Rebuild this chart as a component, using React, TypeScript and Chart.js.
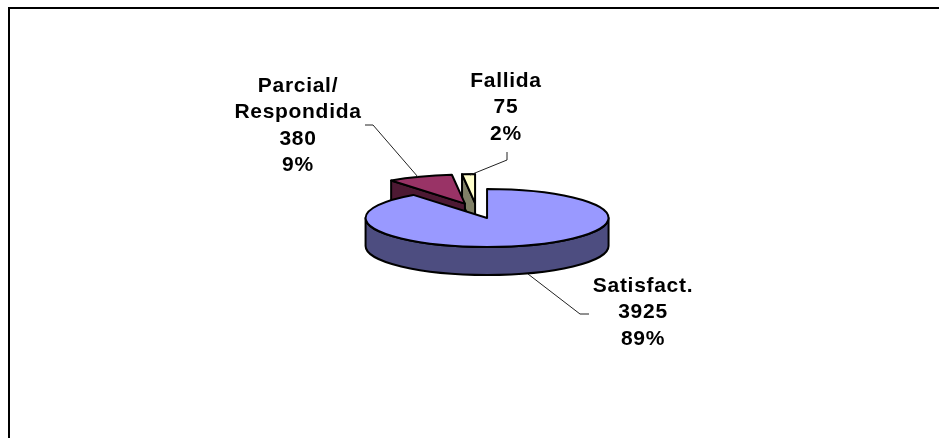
import React, { useEffect, useRef } from "react";
import { Chart, registerables } from "chart.js";

Chart.register(...registerables);

const categories = ["Satisfact.", "Parcial/\nRespondida", "Fallida"];
const values = [3925, 380, 75];
const percentLabels = ["89%", "9%", "2%"];
const topColors = ["#9999FF", "#993366", "#FFFFCC"];
const wallColors = ["#4D4D80", "#4D1933", "#808066"];
const explode = [32, 32, 32];

const SQUASH = 0.2387;
const DEPTH = 28;
const FONT = 'bold 21px "Liberation Sans", Arial, sans-serif';
const LINE_HEIGHT = 26.4;

const labelTops = [
  { x: 643, y: 286 },
  { x: 298, y: 86 },
  { x: 506, y: 81 },
];
const leaders = [
  [[528, 274], [580, 314], [589, 314]],
  [[365, 125], [373, 125], [418, 177]],
  [[507, 152], [507, 160], [470, 175]],
];

const pie3d = {
  id: "pie3d",
  beforeDatasetsDraw(chart: any) {
    const ctx = chart.ctx as CanvasRenderingContext2D;
    const arcs = chart.getDatasetMeta(0).data as any[];
    const order = arcs
      .map((a, i) => ({ a, i, mid: (a.startAngle + a.endAngle) / 2 }))
      .sort((p, q) => Math.sin(p.mid) - Math.sin(q.mid));

    ctx.save();
    ctx.lineJoin = "round";
    ctx.strokeStyle = "#000";
    ctx.lineWidth = 2;

    const fillStroke = (fill: string) => {
      ctx.fillStyle = fill;
      ctx.fill();
      ctx.stroke();
    };

    for (const { a, i, mid } of order) {
      const R = a.outerRadius;
      const off = a.options.offset || 0;
      const cx = a.x + Math.cos(mid) * off;
      const cy = a.y + Math.sin(mid) * off * SQUASH;
      const ry = R * SQUASH;
      const s = a.startAngle;
      const e = a.endAngle;
      const px = (t: number) => cx + R * Math.cos(t);
      const py = (t: number) => cy + ry * Math.sin(t);

      // radial faces turned towards the viewer
      const face = (t: number) => {
        ctx.beginPath();
        ctx.moveTo(cx, cy);
        ctx.lineTo(px(t), py(t));
        ctx.lineTo(px(t), py(t) + DEPTH);
        ctx.lineTo(cx, cy + DEPTH);
        ctx.closePath();
        fillStroke(wallColors[i]);
      };
      if (Math.cos(s) < 0) face(s);
      if (Math.cos(e) > 0) face(e);

      // outer wall: the part of the rim on the near side
      const from = Math.max(s, 0);
      const to = Math.min(e, Math.PI);
      if (to > from) {
        ctx.beginPath();
        ctx.ellipse(cx, cy, R, ry, 0, from, to);
        ctx.lineTo(px(to), py(to) + DEPTH);
        ctx.ellipse(cx, cy + DEPTH, R, ry, 0, to, from, true);
        ctx.closePath();
        fillStroke(wallColors[i]);
      }

      // top
      ctx.beginPath();
      ctx.moveTo(cx, cy);
      ctx.ellipse(cx, cy, R, ry, 0, s, e);
      ctx.closePath();
      fillStroke(topColors[i]);
    }
    ctx.restore();
    return false;
  },
  afterDraw(chart: any) {
    const ctx = chart.ctx as CanvasRenderingContext2D;
    ctx.save();
    ctx.strokeStyle = "#222";
    ctx.lineWidth = 1;
    for (const pts of leaders) {
      ctx.beginPath();
      pts.forEach(([x, y], i) => (i ? ctx.lineTo(x, y) : ctx.moveTo(x, y)));
      ctx.stroke();
    }
    ctx.fillStyle = "#000";
    ctx.font = FONT;
    (ctx as any).letterSpacing = "0.7px";
    ctx.textAlign = "center";
    ctx.textBaseline = "middle";
    categories.forEach((c, i) => {
      const lines = [...c.split("\n"), String(values[i]), percentLabels[i]];
      lines.forEach((t, k) => {
        ctx.fillText(t, labelTops[i].x, labelTops[i].y + k * LINE_HEIGHT);
      });
    });
    ctx.restore();
  },
};

export default function App() {
  const ref = useRef<HTMLCanvasElement>(null);
  useEffect(() => {
    document.body.style.margin = "0";
    const chart = new Chart(ref.current!, {
      type: "pie",
      data: {
        labels: categories,
        datasets: [
          {
            data: values,
            backgroundColor: topColors,
            borderColor: "#000",
            borderWidth: 2,
            offset: explode,
            radius: 121.5,
          } as any,
        ],
      },
      options: {
        responsive: false,
        animation: false,
        layout: { padding: { left: 14.6, right: 0, top: 0, bottom: 16.6 } },
        plugins: { legend: { display: false }, tooltip: { enabled: false } },
      },
      plugins: [pie3d],
    });
    return () => chart.destroy();
  }, []);
  return (
    <div style={{ position: "relative", width: 939, height: 438, overflow: "hidden", background: "#fff" }}>
      <canvas ref={ref} width={939} height={438} style={{ display: "block" }} />
      <div style={{ position: "absolute", left: 8, top: 7, right: 0, bottom: 0, borderLeft: "2px solid #000", borderTop: "2px solid #000" }} />
    </div>
  );
}
